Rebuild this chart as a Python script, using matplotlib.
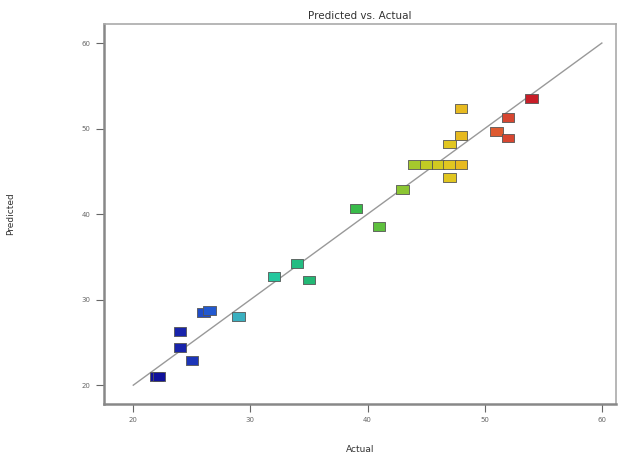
import matplotlib
matplotlib.use("Agg")
import matplotlib.pyplot as plt
from matplotlib.colors import LinearSegmentedColormap
import numpy as np

# Actual vs predicted values
actual = [22.0, 22.2, 24.0, 24.0, 25.0, 26.0, 26.5, 29.0, 32.0, 34.0, 35.0,
          39.0, 41.0, 43.0, 44.0, 45.0, 46.0, 47.0, 48.0, 47.0, 47.0, 48.0,
          48.0, 51.0, 52.0, 52.0, 54.0]
predicted = [21.0, 21.0, 26.3, 24.4, 22.9, 28.5, 28.7, 28.0, 32.7, 34.2, 32.3,
             40.7, 38.5, 42.9, 45.8, 45.8, 45.8, 45.8, 45.8, 44.3, 48.2, 49.2,
             52.3, 49.7, 51.3, 48.9, 53.5]
ticks = [20, 30, 40, 50, 60]

# Design-Expert like colour ramp (blue -> cyan -> green -> yellow -> red)
ramp = LinearSegmentedColormap.from_list(
    "de", [(0.0, "#10109a"), (0.08, "#1a2ab0"), (0.14, "#2258d0"),
           (0.22, "#3ab0c0"), (0.31, "#25c8a0"), (0.40, "#22b878"),
           (0.55, "#3cbb44"), (0.68, "#9cc830"), (0.73, "#c8cc20"),
           (0.78, "#e0c820"), (0.82, "#e8b820"), (0.90, "#e06030"),
           (0.95, "#d54030"), (1.0, "#c81e28")])

fig = plt.figure(figsize=(6.19, 4.57), dpi=100)
ax = fig.add_axes([0.168, 0.116, 0.827, 0.831])

ax.plot([20, 60], [20, 60], color="#999999", lw=1.0, zorder=1)

rect = [(-1.4, -1), (1.4, -1), (1.4, 1), (-1.4, 1), (-1.4, -1)]
ax.scatter(actual, predicted, c=actual, cmap=ramp, vmin=min(actual), vmax=max(actual),
           marker=rect, s=80, edgecolors="#555555", linewidths=0.6, zorder=2)

ax.set_xlim(17.5, 61.2)
ax.set_ylim(17.8, 62.2)
ax.set_xticks(ticks)
ax.set_yticks(ticks)
ax.tick_params(labelsize=5, colors="#666666", length=6, width=0.8, direction="out")
for side in ["left", "bottom"]:
    ax.spines[side].set_color("#888888")
    ax.spines[side].set_linewidth(1.8)
for side in ["top", "right"]:
    ax.spines[side].set_color("#aaaaaa")
    ax.spines[side].set_linewidth(1.2)

ax.set_title("Predicted vs. Actual", fontsize=7.5, color="#333333", pad=4)
ax.set_xlabel("Actual", fontsize=6.5, color="#333333", labelpad=16)
ax.set_ylabel("Predicted", fontsize=6.5, color="#333333", labelpad=48)

fig.savefig("out.png", dpi=100)
